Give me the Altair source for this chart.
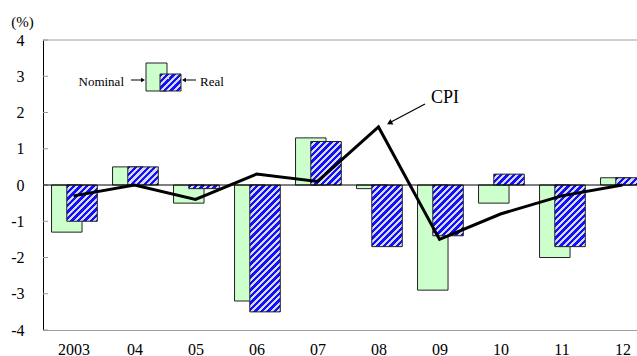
import math
import altair as alt
import pandas as pd

# ---------------- data ----------------
years = ["2003", "04", "05", "06", "07", "08", "09", "10", "11", "12"]
nominal = [-1.3, 0.5, -0.5, -3.2, 1.3, -0.1, -2.9, -0.5, -2.0, 0.2]
real = [-1.0, 0.5, -0.1, -3.5, 1.2, -1.7, -1.4, 0.3, -1.7, 0.2]
cpi = [-0.3, 0.0, -0.4, 0.3, 0.1, 1.6, -1.5, -0.8, -0.3, 0.0]
y_ticks = [-4, -3, -2, -1, 0, 1, 2, 3, 4]

SERIF = "Liberation Serif"
W, H = 594, 290
X_RANGE = 610          # plot continues past the right edge of the window
PX_X = X_RANGE / 10.0
PX_Y = H / 8.0
BLUE, LIGHT = "#1010ff", "#d8d8ee"
GREEN = "#ccffcc"
EDGE = "#222222"

df = pd.DataFrame({"i": list(range(len(years))), "year": years,
                   "nominal": nominal, "real": real, "cpi": cpi})
one = pd.DataFrame({"k": [0]})

XS = alt.Scale(domain=[-0.5, 9.5], range=[0, X_RANGE], nice=False, zero=False)
YS = alt.Scale(domain=[-4, 4], nice=False, zero=False)

label_arr = "[" + ",".join("'%s'" % y for y in years) + "]"

AX = alt.Axis(
    values=list(range(len(years))), labelExpr=label_arr + "[datum.value]",
    ticks=False, grid=False, domainColor="#a0a0a0", title=None,
    labelFont=SERIF, labelFontSize=16, labelColor="black",
    labelPadding=11, labelFlush=False)
AY = alt.Axis(
    values=y_ticks, labelExpr="'' + datum.value",
    ticks=False, grid=False, domainColor="black",
    labelFont=SERIF, labelFontSize=16, labelColor="black", labelPadding=19,
    title="(%)", titleAngle=0, titleX=-21, titleY=-19, titleAlign="center",
    titleBaseline="middle", titleFont=SERIF, titleFontSize=15,
    titleFontWeight="normal", titleColor="black")


def stripes(w, h, period=6.5):
    """Diagonal '/' hatch as a linear gradient in the mark's bounding box."""
    w = max(w, 0.5)
    h = max(h, 0.5)
    L = w + h
    k = L / (w * w + h * h)
    stops = []
    j = 0
    while True:
        a = j * period / L
        b = (j * period + period / 2) / L
        c = (j + 1) * period / L
        for off, col in [(a, BLUE), (b, BLUE), (b, LIGHT), (c, LIGHT)]:
            stops.append({"offset": min(off, 1.0), "color": col})
        if c >= 1.0:
            break
        j += 1
    return {"gradient": "linear", "x1": 0, "y1": 0, "x2": k * w, "y2": k * h,
            "stops": stops}


def dx(v):
    return alt.datum(v, scale=XS, axis=AX)


def dy(v):
    return alt.datum(v, scale=YS, axis=AY)


base = alt.Chart(df)

# Nominal bars
nom_bars = base.transform_calculate(
    xa="datum.i - 0.36", xb="datum.i + 0.14"
).mark_bar(fill=GREEN, stroke=EDGE, strokeWidth=1).encode(
    x=alt.X("xa:Q", scale=XS, axis=AX),
    x2="xb:Q",
    y=alt.Y("nominal:Q", scale=YS, axis=AY),
    y2=alt.datum(0),
)

# Real bars, each with its own hatch gradient sized to the bar
real_layers = []
for i, v in enumerate(real):
    g = stripes(0.5 * PX_X, abs(v) * PX_Y)
    real_layers.append(
        base.transform_filter("datum.i == %d" % i).transform_calculate(
            xa="datum.i - 0.11", xb="datum.i + 0.39"
        ).mark_bar(fill=g, stroke=EDGE, strokeWidth=1).encode(
            x=alt.X("xa:Q", scale=XS, axis=AX),
            x2="xb:Q",
            y=alt.Y("real:Q", scale=YS, axis=AY),
            y2=alt.datum(0),
        )
    )

# frame pieces
top_rule = alt.Chart(one).mark_rule(color="#a0a0a0", strokeWidth=1).encode(
    x=dx(-0.5), x2=alt.datum(9.5), y=dy(4))
zero_rule = alt.Chart(one).mark_rule(color="black", strokeWidth=1).encode(
    x=dx(-0.5), x2=alt.datum(9.5), y=dy(0))
tick_df = pd.DataFrame({"v": y_ticks})
y_tick_marks = alt.Chart(tick_df).mark_rule(color="#999999", strokeWidth=1).encode(
    x=dx(-0.5), x2=alt.datum(-0.5 + 5 / PX_X),
    y=alt.Y("v:Q", scale=YS, axis=AY))

# CPI line
cpi_line = base.mark_line(color="black", strokeWidth=3).encode(
    x=alt.X("i:Q", scale=XS, axis=AX),
    y=alt.Y("cpi:Q", scale=YS, axis=AY))

# ---------------- annotations (legend + CPI label) ----------------
def xu(px):
    return (px - 43) / PX_X - 0.5


def yu(py):
    return (185 - py) / PX_Y


ann = alt.Chart(one)
leg_nom_box = ann.mark_rect(fill=GREEN, stroke=EDGE, strokeWidth=1).encode(
    x=dx(xu(146)), x2=alt.datum(xu(167)), y=dy(yu(63)), y2=alt.datum(yu(91)))
leg_real_box = ann.mark_rect(fill=stripes(21, 17), stroke=EDGE, strokeWidth=1).encode(
    x=dx(xu(160)), x2=alt.datum(xu(181)), y=dy(yu(74)), y2=alt.datum(yu(91)))

arrow_nom = ann.mark_rule(color="black", strokeWidth=1).encode(
    x=dx(xu(131)), x2=alt.datum(xu(142)), y=dy(yu(80)))
head_nom = ann.mark_point(shape="triangle-right", filled=True, color="black",
                          size=22, opacity=1).encode(x=dx(xu(143)), y=dy(yu(80)))
arrow_real = ann.mark_rule(color="black", strokeWidth=1).encode(
    x=dx(xu(185)), x2=alt.datum(xu(196)), y=dy(yu(80)))
head_real = ann.mark_point(shape="triangle-left", filled=True, color="black",
                           size=22, opacity=1).encode(x=dx(xu(184)), y=dy(yu(80)))

txt_nom = ann.mark_text(text="Nominal", font=SERIF, fontSize=13, align="right",
                        baseline="middle", color="black").encode(
    x=dx(xu(124)), y=dy(yu(81.5)))
txt_real = ann.mark_text(text="Real", font=SERIF, fontSize=13, align="left",
                         baseline="middle", color="black").encode(
    x=dx(xu(200)), y=dy(yu(81.5)))
txt_cpi = ann.mark_text(text="CPI", font=SERIF, fontSize=18, align="left",
                        baseline="middle", color="black").encode(
    x=dx(xu(431)), y=dy(yu(98)))
arrow_cpi = ann.mark_rule(color="black", strokeWidth=1.2).encode(
    x=dx(xu(425)), x2=alt.datum(xu(391)), y=dy(yu(104)), y2=alt.datum(yu(122)))
head_cpi = ann.mark_point(shape="triangle-up", filled=True, color="black",
                          size=40, angle=242, opacity=1).encode(
    x=dx(xu(389.5)), y=dy(yu(123)))

chart = alt.layer(
    nom_bars, *real_layers, top_rule, y_tick_marks, zero_rule, cpi_line,
    leg_nom_box, leg_real_box, arrow_nom, head_nom, arrow_real, head_real,
    txt_nom, txt_real, txt_cpi, arrow_cpi, head_cpi,
).properties(
    width=W, height=H,
    autosize=alt.AutoSizeParams(type="none"),
    padding={"left": 43, "top": 40, "right": 0, "bottom": 26},
    background="white",
).configure_view(stroke=None)

chart.save("out.html", embed_options={"renderer": "svg", "actions": False})
